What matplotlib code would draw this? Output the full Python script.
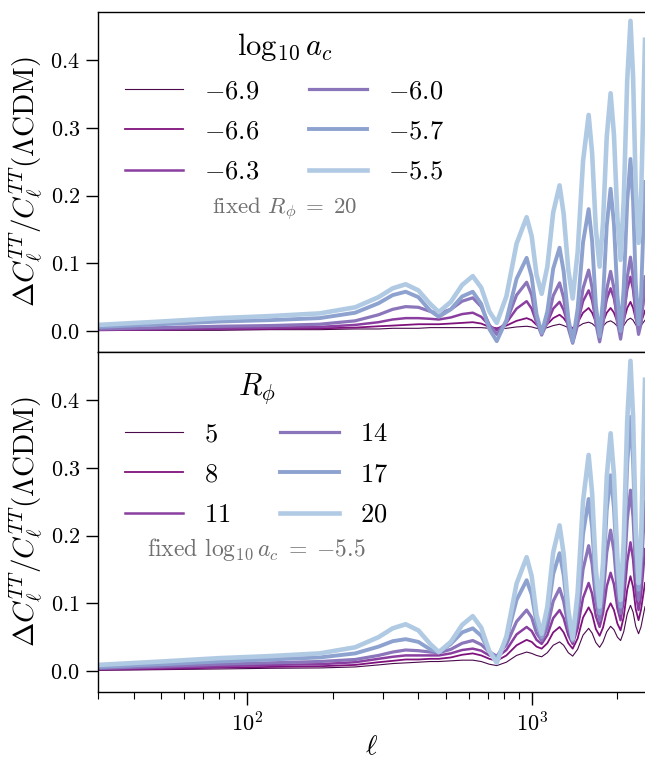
import numpy as np
import matplotlib
matplotlib.use("Agg")
import matplotlib.pyplot as plt

plt.rcParams['font.family'] = 'serif'
plt.rcParams['font.serif'] = ['cmr10', 'DejaVu Serif']
plt.rcParams['mathtext.fontset'] = 'cm'
plt.rcParams['axes.formatter.use_mathtext'] = True

# multipole grid (read positions)
ell = [30, 50, 80, 120, 180, 240, 290, 325, 361, 400, 440, 472, 520, 570, 621,
       665, 710, 754, 815, 885, 960, 1000, 1040, 1084, 1135, 1190, 1253,
       1295, 1345, 1393, 1450, 1515, 1585, 1630, 1680, 1732, 1780, 1835, 1893,
       1945, 2000, 2052, 2105, 2165, 2223, 2270, 2320, 2373, 2420, 2500]

# ---- top panel: varying log10 a_c (fixed R_phi = 20)
ac_labels = ['-6.9', '-6.6', '-6.3', '-6.0', '-5.7', '-5.5']
ac_m69 = [0.001, 0.001, 0.001, 0.002, 0.002, 0.003, 0.003, 0.004, 0.004, 0.004, 0.005, 0.005, 0.005, 0.005, 0.005,
          0.005, 0.004, 0.003, 0.004, 0.006, 0.007, 0.006, 0.004, 0.003, 0.005, 0.008, 0.010,
          0.008, 0.005, 0.003, 0.006, 0.011, 0.013, 0.011, 0.006, 0.004, 0.007, 0.013, 0.015,
          0.012, 0.007, 0.004, 0.008, 0.016, 0.019, 0.016, 0.009, 0.006, 0.008, 0.016]
ac_m66 = [0.001, 0.002, 0.003, 0.003, 0.004, 0.005, 0.007, 0.008, 0.009, 0.010, 0.010, 0.010, 0.011, 0.012, 0.013,
          0.011, 0.006, 0.004, 0.008, 0.015, 0.019, 0.016, 0.009, 0.005, 0.010, 0.019, 0.024,
          0.019, 0.009, 0.004, 0.012, 0.027, 0.034, 0.027, 0.013, 0.006, 0.013, 0.027, 0.034,
          0.027, 0.013, 0.006, 0.015, 0.034, 0.043, 0.034, 0.017, 0.008, 0.012, 0.030]
ac_m63 = [0.002, 0.003, 0.004, 0.005, 0.006, 0.009, 0.013, 0.017, 0.019, 0.019, 0.018, 0.017, 0.020, 0.025, 0.027,
          0.021, 0.008, 0.001, 0.012, 0.033, 0.044, 0.033, 0.012, 0.001, 0.012, 0.033, 0.043,
          0.031, 0.008, -0.004, 0.012, 0.044, 0.060, 0.045, 0.015, 0.000, 0.016, 0.047, 0.063,
          0.048, 0.017, 0.002, 0.022, 0.061, 0.080, 0.061, 0.023, 0.004, 0.012, 0.060]
ac_m60 = [0.003, 0.005, 0.007, 0.008, 0.010, 0.015, 0.024, 0.032, 0.036, 0.035, 0.029, 0.026, 0.032, 0.044, 0.049,
          0.036, 0.009, -0.005, 0.014, 0.053, 0.072, 0.053, 0.014, -0.006, 0.013, 0.052, 0.071,
          0.049, 0.004, -0.018, 0.009, 0.063, 0.090, 0.064, 0.011, -0.016, 0.010, 0.062, 0.088,
          0.063, 0.013, -0.012, 0.018, 0.079, 0.109, 0.081, 0.024, -0.005, 0.010, 0.080]
ac_m57 = [0.006, 0.010, 0.014, 0.016, 0.019, 0.027, 0.041, 0.053, 0.058, 0.050, 0.030, 0.021, 0.032, 0.051, 0.058,
          0.040, 0.003, -0.015, 0.016, 0.077, 0.108, 0.080, 0.025, -0.003, 0.029, 0.092, 0.123,
          0.088, 0.019, -0.016, 0.033, 0.131, 0.180, 0.133, 0.039, -0.008, 0.047, 0.156, 0.210,
          0.158, 0.053, 0.000, 0.064, 0.191, 0.254, 0.193, 0.071, 0.010, 0.050, 0.220]
ac_m55 = [0.009, 0.014, 0.019, 0.022, 0.026, 0.035, 0.050, 0.063, 0.069, 0.060, 0.040, 0.028, 0.043, 0.068, 0.081,
          0.064, 0.029, 0.012, 0.051, 0.129, 0.168, 0.140, 0.083, 0.055, 0.095, 0.175, 0.215,
          0.173, 0.090, 0.048, 0.116, 0.251, 0.319, 0.263, 0.151, 0.095, 0.159, 0.287, 0.351,
          0.290, 0.167, 0.105, 0.193, 0.370, 0.458, 0.376, 0.212, 0.130, 0.190, 0.430]

# ---- bottom panel: varying R_phi (fixed log10 a_c = -5.5)
r_labels = ['5', '8', '11', '14', '17', '20']
r_5 = [0.001, 0.002, 0.003, 0.004, 0.0045, 0.006, 0.009, 0.011, 0.012, 0.013, 0.014, 0.014, 0.015, 0.016, 0.016,
       0.014, 0.010, 0.008, 0.013, 0.023, 0.028, 0.026, 0.023, 0.021, 0.027, 0.038, 0.043,
       0.038, 0.027, 0.022, 0.032, 0.053, 0.063, 0.056, 0.042, 0.035, 0.043, 0.058, 0.066,
       0.061, 0.050, 0.045, 0.058, 0.084, 0.097, 0.087, 0.066, 0.055, 0.065, 0.095]
r_8 = [0.002, 0.003, 0.005, 0.006, 0.007, 0.009, 0.013, 0.015, 0.017, 0.017, 0.018, 0.018, 0.020, 0.024, 0.026,
       0.023, 0.018, 0.015, 0.023, 0.038, 0.046, 0.043, 0.036, 0.033, 0.041, 0.057, 0.065,
       0.057, 0.041, 0.033, 0.048, 0.079, 0.094, 0.084, 0.062, 0.052, 0.064, 0.088, 0.100,
       0.090, 0.070, 0.060, 0.080, 0.120, 0.140, 0.124, 0.091, 0.075, 0.090, 0.130]
r_11 = [0.003, 0.005, 0.007, 0.009, 0.010, 0.013, 0.018, 0.021, 0.023, 0.023, 0.023, 0.023, 0.026, 0.031, 0.033,
        0.030, 0.023, 0.020, 0.031, 0.054, 0.065, 0.059, 0.046, 0.040, 0.053, 0.078, 0.090,
        0.078, 0.053, 0.040, 0.063, 0.108, 0.130, 0.114, 0.081, 0.065, 0.085, 0.125, 0.145,
        0.128, 0.093, 0.075, 0.104, 0.161, 0.190, 0.165, 0.115, 0.090, 0.110, 0.180]
r_14 = [0.004, 0.007, 0.010, 0.012, 0.014, 0.017, 0.023, 0.028, 0.031, 0.030, 0.028, 0.027, 0.032, 0.041, 0.045,
        0.039, 0.028, 0.022, 0.039, 0.073, 0.090, 0.079, 0.056, 0.045, 0.064, 0.103, 0.122,
        0.103, 0.064, 0.044, 0.079, 0.150, 0.185, 0.158, 0.103, 0.075, 0.108, 0.175, 0.208,
        0.177, 0.116, 0.085, 0.131, 0.222, 0.267, 0.227, 0.146, 0.105, 0.140, 0.250]
r_17 = [0.006, 0.010, 0.014, 0.017, 0.020, 0.026, 0.036, 0.044, 0.047, 0.043, 0.032, 0.028, 0.040, 0.057, 0.063,
        0.052, 0.029, 0.018, 0.047, 0.105, 0.134, 0.113, 0.071, 0.050, 0.081, 0.143, 0.174,
        0.142, 0.077, 0.045, 0.097, 0.202, 0.254, 0.212, 0.127, 0.085, 0.136, 0.238, 0.289,
        0.241, 0.144, 0.095, 0.165, 0.305, 0.375, 0.311, 0.184, 0.120, 0.170, 0.350]
r_20 = ac_m55  # same model: log10 a_c = -5.5, R_phi = 20

colors = ['#4a0a4c', '#7f117c', '#8a3fa0', '#8b75bb', '#8ea2d0', '#b1cae4']
widths = [0.8, 1.3, 1.8, 2.3, 2.8, 3.3]

W, H = 645, 760
fig = plt.figure(figsize=(W / 100, H / 100), dpi=100)
left = 98 / W
ax1 = fig.add_axes([left, 1 - 352 / H, 1 - left, 340 / H])
ax2 = fig.add_axes([left, 1 - 692 / H, 1 - left, 340 / H], sharex=ax1)

top_series = [ac_m69, ac_m66, ac_m63, ac_m60, ac_m57, ac_m55]
bot_series = [r_5, r_8, r_11, r_14, r_17, r_20]

for s, lab, c, w in zip(top_series, ac_labels, colors, widths):
    ax1.plot(ell, s, color=c, lw=w, label='$' + lab + '$', solid_joinstyle='round')
for s, lab, c, w in zip(bot_series, r_labels, colors, widths):
    ax2.plot(ell, s, color=c, lw=w, label='$' + lab + '$', solid_joinstyle='round')

ylab = r'$\Delta C_\ell^{TT}/C_\ell^{TT}(\Lambda\mathrm{CDM})$'
for ax in (ax1, ax2):
    ax.set_xscale('log')
    ax.set_xlim(30, 2500)
    ax.set_ylim(-0.031, 0.471)
    ax.set_yticks([0.0, 0.1, 0.2, 0.3, 0.4])
    ax.set_yticklabels(['$0.0$', '$0.1$', '$0.2$', '$0.3$', '$0.4$'])
    ax.tick_params(axis='y', which='major', direction='out', length=9, width=1, labelsize=16, pad=4)
    ax.tick_params(axis='x', which='major', direction='out', length=9, width=1, labelsize=16, pad=5)
    ax.tick_params(axis='x', which='minor', direction='out', length=5, width=0.8)
    ax.set_ylabel(ylab, fontsize=21, labelpad=4)
    for sp in ax.spines.values():
        sp.set_linewidth(1.0)
    ax.spines['right'].set_visible(False)

ax1.tick_params(axis='x', which='both', bottom=False, labelbottom=False)
ax2.set_xlabel(r'$\ell$', fontsize=20, labelpad=-1)

legkw = dict(loc='upper left', bbox_to_anchor=(0.049, 0.945), ncol=2, frameon=False,
             fontsize=19, title_fontsize=22, handlelength=2.2, handletextpad=0.8,
             columnspacing=1.9, labelspacing=0.63, borderpad=0, borderaxespad=0)
leg1 = ax1.legend(title=r'$\log_{10}a_c$', **legkw)
leg2 = ax2.legend(title=r'$R_\phi$', **legkw)
for lg in (leg1, leg2):
    lg._legend_box.sep = 12

ax1.text(0.342, 0.418, r'fixed $R_\phi\;=\;20$', transform=ax1.transAxes,
         ha='center', va='center', fontsize=16.5, color='#707070')
ax2.text(0.29, 0.42, r'fixed $\log_{10}a_c\;=\;{-}5.5$', transform=ax2.transAxes,
         ha='center', va='center', fontsize=17, color='#707070')

fig.savefig('out.png', dpi=100)
